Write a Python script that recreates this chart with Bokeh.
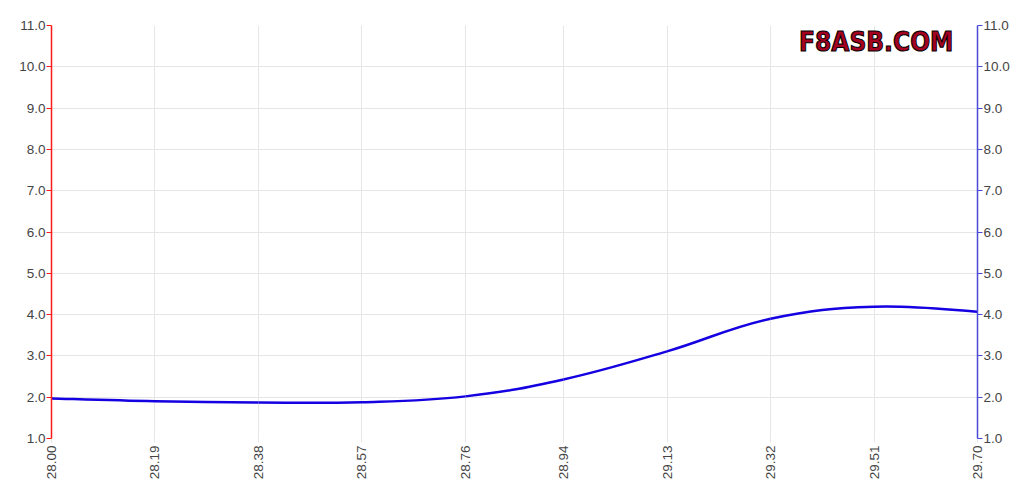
import math
from bokeh.plotting import figure
from bokeh.models import LinearAxis, FixedTicker, NumeralTickFormatter, Range1d, Label
from bokeh.embed import file_html
from bokeh.resources import INLINE

# ---- data ----
x_values = [28.00, 28.19, 28.38, 28.57, 28.76, 28.94, 29.13, 29.32, 29.51, 29.70]
y_values = [1.97, 1.90, 1.87, 1.88, 2.02, 2.43, 3.11, 3.90, 4.19, 4.07]
x_tick_labels = [28.00, 28.19, 28.38, 28.57, 28.76, 28.94, 29.13, 29.32, 29.51, 29.70]
y_tick_labels = [1.0, 2.0, 3.0, 4.0, 5.0, 6.0, 7.0, 8.0, 9.0, 10.0, 11.0]
logo_text = "F8ASB.COM"

LABEL_COLOR = "#444444"
GRID_COLOR = "#e6e6e6"
FONT = "Liberation Sans"

p = figure(width=1016, height=485, output_backend="svg", toolbar_location=None,
           x_range=Range1d(x_values[0], x_values[-1]), y_range=Range1d(1, 11),
           min_border_left=51, min_border_right=39, min_border_top=25, min_border_bottom=47,
           y_axis_location=None)
p.outline_line_color = None
p.background_fill_color = "white"
p.border_fill_color = "white"

# grids
p.xgrid.ticker = FixedTicker(ticks=x_tick_labels)
p.ygrid.ticker = FixedTicker(ticks=y_tick_labels)
p.xgrid.grid_line_color = GRID_COLOR
p.ygrid.grid_line_color = GRID_COLOR

# x axis
xa = p.xaxis[0]
xa.ticker = FixedTicker(ticks=x_tick_labels)
xa.formatter = NumeralTickFormatter(format="0.00")
xa.major_label_orientation = math.pi / 2
xa.axis_line_color = None
xa.major_tick_line_color = GRID_COLOR
xa.major_tick_out = 4
xa.major_tick_in = 0
xa.minor_tick_line_color = None
xa.major_label_standoff = 3
xa.major_label_text_font = FONT
xa.major_label_text_font_size = "13.5px"
xa.major_label_text_color = LABEL_COLOR

def make_y_axis(color):
    ax = LinearAxis(ticker=FixedTicker(ticks=y_tick_labels),
                    formatter=NumeralTickFormatter(format="0.0"))
    ax.axis_line_color = color
    ax.axis_line_width = 1.5
    ax.major_tick_line_color = color
    ax.major_tick_out = 5
    ax.major_tick_in = 0
    ax.minor_tick_line_color = None
    ax.major_label_standoff = 1
    ax.major_label_text_font = FONT
    ax.major_label_text_font_size = "13.5px"
    ax.major_label_text_color = LABEL_COLOR
    return ax

p.add_layout(make_y_axis("#ff1a1a"), "left")
p.add_layout(make_y_axis("#4a4ad8"), "right")

# smooth line (bezier segments with control points from neighbouring data, like a tension spline)
t = 0.2
n = len(x_values)
cp1x, cp1y, cp2x, cp2y = [], [], [], []
for i in range(n):
    pi_ = max(i - 1, 0)
    ni = min(i + 1, n - 1)
    dx = x_values[ni] - x_values[pi_]
    dy = y_values[ni] - y_values[pi_]
    cp1x.append(x_values[i] - t * dx)
    cp1y.append(y_values[i] - t * dy)
    cp2x.append(x_values[i] + t * dx)
    cp2y.append(y_values[i] + t * dy)

p.bezier(x0=x_values[:-1], y0=y_values[:-1], x1=x_values[1:], y1=y_values[1:],
         cx0=cp2x[:-1], cy0=cp2y[:-1], cx1=cp1x[1:], cy1=cp1y[1:],
         line_color="#1400e0", line_width=2.5)

# logo
logo = Label(x=29.514, y=10.59, text=logo_text, text_align="center", text_baseline="middle",
             text_font="'DejaVu Sans Condensed', sans-serif",
             text_font_style="bold", text_font_size="26px", text_color="#a5001f",
             text_outline_color="#000000")
p.add_layout(logo)

open("out.html", "w").write(file_html(p, INLINE))
